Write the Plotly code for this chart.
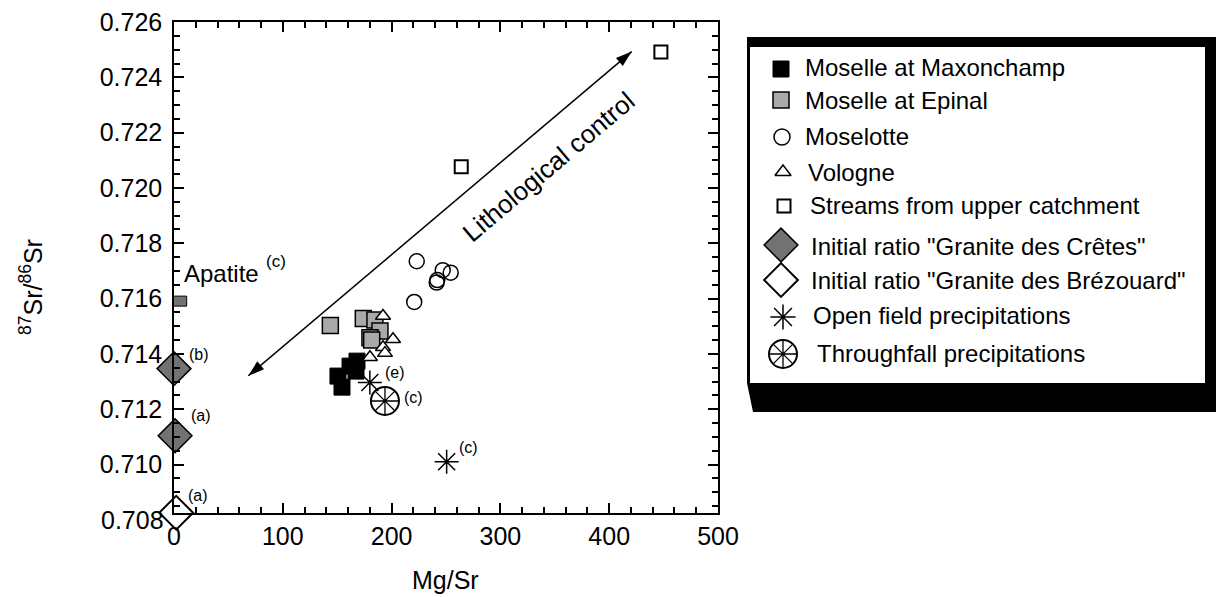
import math
import plotly.graph_objects as go

# 87Sr/86Sr against Mg/Sr for river waters, rocks and precipitation
maxonchamp_mgsr = [150.7, 154.4, 161.8, 168.2, 167.3]
maxonchamp_sr = [0.71320, 0.71280, 0.71356, 0.71374, 0.71338]

epinal_mgsr = [143.7, 174.0, 184.7, 189.3, 180.1, 181.7]
epinal_sr = [0.71503, 0.71528, 0.71523, 0.71483, 0.71459, 0.71450]

moselotte_mgsr = [223.1, 247.0, 254.3, 242.0, 241.4, 220.8]
moselotte_sr = [0.71735, 0.71703, 0.71694, 0.71667, 0.71658, 0.71588]

vologne_mgsr = [192.1, 201.3, 192.1, 193.9, 180.1]
vologne_sr = [0.71537, 0.71453, 0.71424, 0.71403, 0.71388]

streams_mgsr = [264.0, 447.5]
streams_sr = [0.72077, 0.72492]

cretes_mgsr = [0.0, 1.0]
cretes_sr = [0.71347, 0.71104]
cretes_refs = ["(b)", "(a)"]

brezouard_mgsr = [2.0]
brezouard_sr = [0.70826]
brezouard_refs = ["(a)"]

openfield_mgsr = [180.0, 250.6]
openfield_sr = [0.71297, 0.71010]
openfield_refs = ["(e)", "(c)"]

throughfall_mgsr = [193.9]
throughfall_sr = [0.71230]
throughfall_refs = ["(c)"]

apatite_mgsr = 2.0
apatite_sr = 0.71591

# ends of the "Lithological control" trend arrow (Mg/Sr, Sr ratio)
trend_start = (68.3, 0.71321)
trend_end = (420.7, 0.72493)
trend_label_at = (344.0, 0.72076)

x_ticks = [0, 100, 200, 300, 400, 500]
y_tick_labels = ["0.708", "0.710", "0.712", "0.714", "0.716", "0.718",
                 "0.720", "0.722", "0.724", "0.726"]

# ---- figure geometry -------------------------------------------------
W, H = 1216, 597
M_L, M_R, M_T, M_B = 174, 0, 22, 84
PAPER_W = W - M_L - M_R
PAPER_H = H - M_T - M_B
PLOT_W = 544  # main panel width in px
X_RANGE = [0, 500]
Y_RANGE = [0.70825, 0.726001]

FONT = "Liberation Sans"
BLACK = "black"
GREY_LIGHT = "#A9A9A9"
GREY_DARK = "#727272"


def px_x(px):
    return (px - M_L) / PAPER_W


def px_y(py):
    return (M_T + PAPER_H - py) / PAPER_H


fig = go.Figure()

common = dict(mode="markers", cliponaxis=False, showlegend=False,
              hoverinfo="x+y")

style_maxon = dict(symbol="square", size=16, color=BLACK,
                   line=dict(color=BLACK, width=1))
style_epinal = dict(symbol="square", size=16, color=GREY_LIGHT,
                    line=dict(color=BLACK, width=1.5))
style_moselotte = dict(symbol="circle-open", size=15, color=BLACK,
                       line=dict(color=BLACK, width=1.5))
style_vologne = dict(symbol="triangle-up", size=13, color="white",
                     line=dict(color=BLACK, width=1.5))
style_streams = dict(symbol="square", size=13, color="white",
                     line=dict(color=BLACK, width=2))
style_cretes = dict(symbol="diamond", size=26, color=GREY_DARK,
                    line=dict(color=BLACK, width=1.5))
style_brez = dict(symbol="diamond", size=26, color="white",
                  line=dict(color=BLACK, width=2))
style_open = dict(symbol="asterisk-open", size=20, color=BLACK,
                  line=dict(color=BLACK, width=1.5))
style_tf_ring = dict(symbol="circle-open", size=28, color=BLACK,
                     line=dict(color=BLACK, width=2))
style_tf_star = dict(symbol="asterisk-open", size=22, color=BLACK,
                     line=dict(color=BLACK, width=1.3))

series = [
    (epinal_mgsr, epinal_sr, style_epinal),
    (maxonchamp_mgsr, maxonchamp_sr, style_maxon),
    (vologne_mgsr, vologne_sr, style_vologne),
    (moselotte_mgsr, moselotte_sr, style_moselotte),
    (streams_mgsr, streams_sr, style_streams),
    (cretes_mgsr, cretes_sr, style_cretes),
    (brezouard_mgsr, brezouard_sr, style_brez),
    (openfield_mgsr, openfield_sr, style_open),
    (throughfall_mgsr, throughfall_sr, style_tf_ring),
    (throughfall_mgsr, throughfall_sr, style_tf_star),
]
for xs, ys, st in series:
    fig.add_trace(go.Scatter(x=xs, y=ys, marker=st, xaxis="x", yaxis="y",
                             **common))

# trend arrow: shaft plus an arrow head at each end
px_per_x = PLOT_W / (X_RANGE[1] - X_RANGE[0])
px_per_y = PAPER_H / (Y_RANGE[1] - Y_RANGE[0])
dx_px = (trend_end[0] - trend_start[0]) * px_per_x
dy_px = (trend_end[1] - trend_start[1]) * px_per_y
head_angle = math.degrees(math.atan2(dx_px, dy_px))
fig.add_trace(go.Scatter(
    x=[trend_start[0], trend_end[0]], y=[trend_start[1], trend_end[1]],
    mode="lines+markers", line=dict(color=BLACK, width=1.5),
    marker=dict(symbol="arrow", size=17, color=BLACK,
                angle=[head_angle + 180, head_angle],
                line=dict(width=0)),
    showlegend=False, hoverinfo="skip", cliponaxis=False))

annotations = []


def note(text, x, y, xshift=0, yshift=0, size=16, **kw):
    annotations.append(dict(text=text, x=x, y=y, xref="x", yref="y",
                            xshift=xshift, yshift=yshift, showarrow=False,
                            xanchor="center", yanchor="middle",
                            font=dict(family=FONT, size=size, color=BLACK),
                            **kw))


def paper_text(text, px, py, size=25, **kw):
    opts = dict(xanchor="center", yanchor="middle")
    opts.update(kw)
    annotations.append(dict(text=text, x=px_x(px), y=px_y(py),
                            xref="paper", yref="paper", showarrow=False,
                            font=dict(family=FONT, size=size, color=BLACK),
                            **opts))


# reference letters beside the points
note(cretes_refs[0], cretes_mgsr[0], cretes_sr[0], 25, 14)
note(cretes_refs[1], cretes_mgsr[1], cretes_sr[1], 26, 20)
note(brezouard_refs[0], brezouard_mgsr[0], brezouard_sr[0], 22, 17)
note(openfield_refs[0], openfield_mgsr[0], openfield_sr[0], 25, 10)
note(openfield_refs[1], openfield_mgsr[1], openfield_sr[1], 22, 14)
note(throughfall_refs[0], throughfall_mgsr[0], throughfall_sr[0], 29, 3)
note("Apatite", apatite_mgsr, apatite_sr, 45, 28, size=24)
note("(c)", apatite_mgsr, apatite_sr, 100, 40, size=17)

# trend label running alongside the arrow
note("Lithological control", trend_label_at[0], trend_label_at[1], size=26,
     textangle=head_angle - 90)

# bottom y tick label, which falls just below the axis line
paper_text(y_tick_labels[0], 166, 520, xanchor="right")

# axis titles
paper_text("<sup>87</sup>Sr/<sup>86</sup>Sr", 31, 287, textangle=-90)
paper_text("Mg/Sr", 445, 580)

# ---- key panel (drawn on its own pixel-scaled axes) -------------------
KEY_X = [747, 1216]
KEY_Y = [412, 37]
key_rows = [
    ("Moselle at Maxonchamp", [style_maxon], 781, 69, 803, 67),
    ("Moselle at Epinal", [style_epinal], 781, 100, 803, 100),
    ("Moselotte", [dict(style_moselotte, size=16)], 782, 137, 803, 136),
    ("Vologne", [dict(style_vologne, size=14)], 783, 172, 806, 172),
    ("Streams from upper catchment", [style_streams], 784, 206, 808, 205),
    ('Initial ratio "Granite des Crêtes"', [style_cretes], 781, 245, 809, 246),
    ('Initial ratio "Granite des Brézouard"', [style_brez], 781, 280, 809, 280),
    ("Open field precipitations", [dict(style_open, size=21)], 783, 317, 811, 315),
    ("Throughfall precipitations", [style_tf_ring, style_tf_star], 783, 354, 815, 353),
]
for label, styles, mx, my, tx, ty in key_rows:
    for st in styles:
        fig.add_trace(go.Scatter(x=[mx], y=[my], mode="markers", marker=st,
                                 xaxis="x2", yaxis="y2", showlegend=False,
                                 hoverinfo="skip", cliponaxis=False))
    annotations.append(dict(text=label, x=tx, y=ty, xref="x2", yref="y2",
                            xanchor="left", yanchor="middle", showarrow=False,
                            font=dict(family=FONT, size=24, color=BLACK)))

shapes = [
    # key frame with heavy shadowed edges
    dict(type="path", xref="x2", yref="y2", layer="below",
         path="M747,37 L1216,37 L1216,412 L753,412 L747,383 Z",
         fillcolor=BLACK, line=dict(width=0)),
    dict(type="rect", xref="x2", yref="y2", layer="below",
         x0=750, x1=1205, y0=47, y1=383, fillcolor="white",
         line=dict(width=0)),
    # apatite bar marker
    dict(type="rect", xref="x", yref="y", xsizemode="pixel",
         ysizemode="pixel", xanchor=apatite_mgsr, yanchor=apatite_sr,
         x0=-10.5, x1=10.5, y0=-5, y1=5, fillcolor=GREY_DARK,
         line=dict(color=BLACK, width=1), layer="above"),
]

axis_common = dict(showgrid=False, zeroline=False, showline=True,
                   linecolor=BLACK, linewidth=1.5, mirror="allticks",
                   ticks="inside", ticklen=10, tickwidth=1.5,
                   tickcolor=BLACK, layer="above traces", automargin=False,
                   tickfont=dict(family=FONT, size=25, color=BLACK))

fig.update_layout(
    width=W, height=H, autosize=False,
    margin=dict(l=M_L, r=M_R, t=M_T, b=M_B, pad=0, autoexpand=False),
    paper_bgcolor="white", plot_bgcolor="white",
    xaxis=dict(domain=[0, PLOT_W / PAPER_W], range=X_RANGE,
               tickvals=x_ticks, ticklabelstandoff=0,
               minor=dict(dtick=20, ticks="inside", ticklen=6,
                          tickwidth=1.5, tickcolor=BLACK),
               **axis_common),
    yaxis=dict(domain=[0, 1], range=Y_RANGE,
               tickvals=[float(v) for v in y_tick_labels[1:]],
               ticktext=y_tick_labels[1:], ticklabelstandoff=5,
               minor=dict(dtick=0.0005, tick0=0.708, ticks="inside",
                          ticklen=6, tickwidth=1.5, tickcolor=BLACK),
               **axis_common),
    xaxis2=dict(domain=[px_x(KEY_X[0]), px_x(KEY_X[1])], range=KEY_X,
                visible=False, anchor="y2"),
    yaxis2=dict(domain=[px_y(KEY_Y[0]), px_y(KEY_Y[1])], range=KEY_Y,
                visible=False, anchor="x2"),
    annotations=annotations,
    shapes=shapes,
    font=dict(family=FONT, color=BLACK),
)

fig.write_html("out.html")
